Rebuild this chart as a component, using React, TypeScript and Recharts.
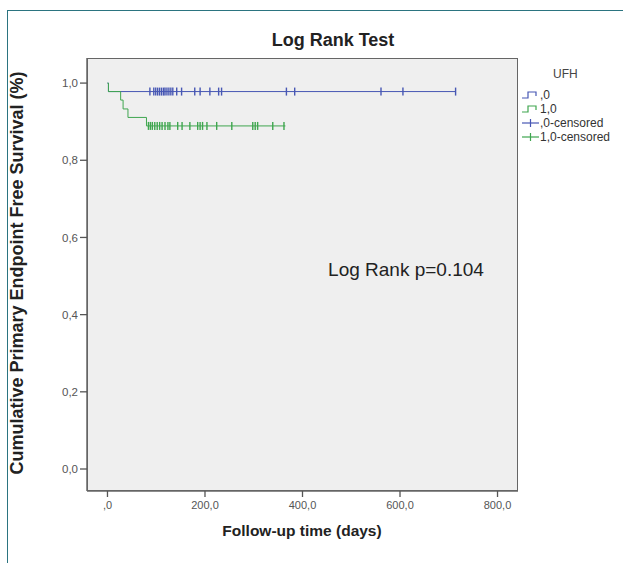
import { ComposedChart, Line, Scatter, XAxis, YAxis, CartesianGrid } from 'recharts';

// Kaplan-Meier steps (day, survival) per UFH group
const ufh0StepDays = [0, 2, 714];
const ufh0StepSurv = [1.0, 0.978, 0.978];
const ufh1StepDays = [0, 2, 27, 32, 42, 80, 365];
const ufh1StepSurv = [1.0, 0.978, 0.956, 0.933, 0.911, 0.889, 0.889];

// censored follow-up times (days)
const ufh0Censored = [87, 95, 99, 103, 107, 111, 115, 118, 122, 126, 130, 134, 142, 152, 179, 190, 210, 228, 234, 367, 384, 561, 606, 714];
const ufh1Censored = [84, 88, 92, 97, 102, 107, 112, 118, 124, 128, 144, 153, 169, 185, 190, 195, 204, 224, 255, 298, 303, 308, 339, 362];

const xTicks = [0, 200, 400, 600, 800];
const yTicks = [0, 0.2, 0.4, 0.6, 0.8, 1.0];

const BLUE = '#4757b4';
const GREEN = '#3fa64f';
const FONT = '"Liberation Sans", Arial, sans-serif';

const survAt = (days: number[], surv: number[], t: number) => {
  let s = surv[0];
  days.forEach((d, i) => {
    if (d <= t) s = surv[i];
  });
  return s;
};

const toSteps = (days: number[], surv: number[]) => days.map((d, i) => ({ day: d, s: surv[i] }));
const toCensor = (times: number[], days: number[], surv: number[]) =>
  times.map((t) => ({ day: t, s: survAt(days, surv, t) }));

const ufh0Steps = toSteps(ufh0StepDays, ufh0StepSurv);
const ufh1Steps = toSteps(ufh1StepDays, ufh1StepSurv);
const ufh0Cens = toCensor(ufh0Censored, ufh0StepDays, ufh0StepSurv);
const ufh1Cens = toCensor(ufh1Censored, ufh1StepDays, ufh1StepSurv);

const commaFmt = (v: number) => (v === 0 ? ',0' : v.toFixed(1).replace('.', ','));
const yFmt = (v: number) => v.toFixed(1).replace('.', ',');

const censorMark = (color: string) => (props: any) => (
  <line x1={props.cx} x2={props.cx} y1={props.cy - 4} y2={props.cy + 4} stroke={color} strokeWidth={1.4} />
);

const PLOT = { left: 87, top: 58, right: 518, bottom: 491 };

function LegendRow({ kind, color, label, top }: { kind: 'step' | 'cens'; color: string; label: string; top: number }) {
  return (
    <div style={{ position: 'absolute', left: 522, top, height: 14, display: 'flex', alignItems: 'center', fontSize: 12, color: '#333' }}>
      <svg width={17} height={10} style={{ marginRight: 1 }}>
        {kind === 'step' ? (
          <path d="M0 8 H6 V2 H14 V6" fill="none" stroke={color} strokeWidth={1.2} />
        ) : (
          <g stroke={color} strokeWidth={1.2}>
            <line x1={0} x2={17} y1={5} y2={5} />
            <line x1={8.5} x2={8.5} y1={1} y2={9} />
          </g>
        )}
      </svg>
      <span>{label}</span>
    </div>
  );
}

export default function App() {
  return (
    <div style={{ position: 'absolute', left: 0, top: 0, width: 623, height: 563, background: '#fff', overflow: 'hidden', fontFamily: FONT }}>
      <div style={{ position: 'absolute', left: 7, top: 10, width: 700, height: 700, border: '1.5px solid #2b7480' }} />
      <div
        style={{
          position: 'absolute',
          left: PLOT.left,
          top: PLOT.top,
          width: PLOT.right - PLOT.left,
          height: PLOT.bottom - PLOT.top,
          background: '#efefef',
          border: '1.5px solid #666',
          boxSizing: 'border-box',
        }}
      />
      <div style={{ position: 'absolute', left: 0, top: 0 }}>
        <ComposedChart width={623} height={563} margin={{ top: PLOT.top, right: 623 - PLOT.right, bottom: 32, left: 0 }}>
          <CartesianGrid horizontal={false} vertical={false} />
          <XAxis
            type="number"
            dataKey="day"
            domain={[-42, 842]}
            ticks={xTicks}
            tickFormatter={commaFmt}
            allowDataOverflow
            height={40}
            tickSize={6}
            tickMargin={4}
            axisLine={{ stroke: '#666', strokeWidth: 1.5 }}
            tickLine={{ stroke: '#555', strokeWidth: 1.3 }}
            tick={{ fontSize: 11, fill: '#555', fontFamily: FONT }}
          />
          <YAxis
            type="number"
            dataKey="s"
            domain={[-0.057, 1.065]}
            ticks={yTicks}
            tickFormatter={yFmt}
            allowDataOverflow
            width={PLOT.left}
            tickSize={7}
            tickMargin={2}
            axisLine={{ stroke: '#666', strokeWidth: 1.5 }}
            tickLine={{ stroke: '#555', strokeWidth: 1.3 }}
            tick={{ fontSize: 11.5, fill: '#555', fontFamily: FONT }}
          />
          <Line data={ufh0Steps} dataKey="s" type="stepAfter" stroke={BLUE} strokeWidth={1} dot={false} isAnimationActive={false} />
          <Line data={ufh1Steps} dataKey="s" type="stepAfter" stroke={GREEN} strokeWidth={1} dot={false} isAnimationActive={false} />
          <Scatter data={ufh0Cens} dataKey="s" shape={censorMark(BLUE)} isAnimationActive={false} />
          <Scatter data={ufh1Cens} dataKey="s" shape={censorMark(GREEN)} isAnimationActive={false} />
        </ComposedChart>
      </div>

      <div style={{ position: 'absolute', left: 333, top: 40, transform: 'translate(-50%, -50%)', fontSize: 18, fontWeight: 'bold', color: '#222', whiteSpace: 'nowrap' }}>
        Log Rank Test
      </div>
      <div style={{ position: 'absolute', left: 17, top: 273, transform: 'translate(-50%, -50%) rotate(-90deg)', fontSize: 18, fontWeight: 'bold', color: '#222', whiteSpace: 'nowrap' }}>
        Cumulative Primary Endpoint Free Survival (%)
      </div>
      <div style={{ position: 'absolute', left: 302, top: 531, transform: 'translate(-50%, -50%)', fontSize: 15.5, fontWeight: 'bold', color: '#222', whiteSpace: 'nowrap' }}>
        Follow-up time (days)
      </div>
      <div style={{ position: 'absolute', left: 406, top: 270, transform: 'translate(-50%, -50%)', fontSize: 19, color: '#222', whiteSpace: 'nowrap' }}>
        Log Rank p=0.104
      </div>

      <div style={{ position: 'absolute', left: 553, top: 67, fontSize: 12, color: '#444' }}>UFH</div>
      <LegendRow kind="step" color={BLUE} label=",0" top={88} />
      <LegendRow kind="step" color={GREEN} label="1,0" top={102} />
      <LegendRow kind="cens" color={BLUE} label=",0-censored" top={116} />
      <LegendRow kind="cens" color={GREEN} label="1,0-censored" top={130} />
    </div>
  );
}
